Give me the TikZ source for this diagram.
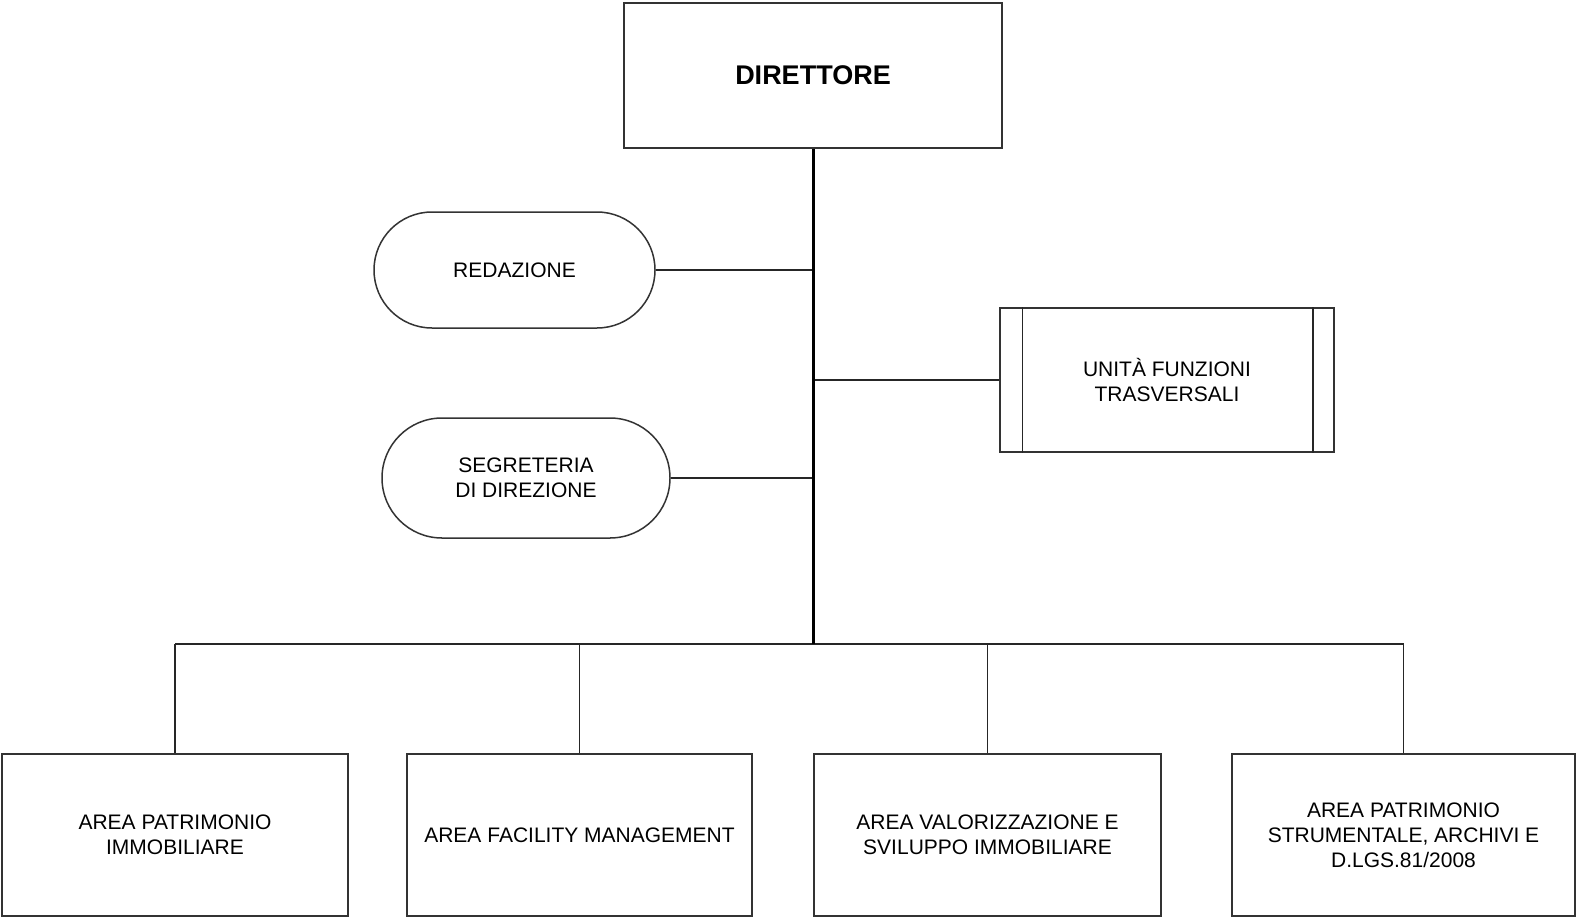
\documentclass[tikz,border=0pt]{standalone}
\usepackage{fontspec}
\setmainfont{Liberation Sans}
\usepackage{tikz}
\usetikzlibrary{positioning, calc}

\begin{document}
\begin{tikzpicture}[x=1pt,y=-1pt]
\tikzset{
  bx/.style={rectangle,draw=black!80,line width=1.5pt,fill=white,inner sep=0pt,align=center,font=\fontsize{21}{25}\selectfont},
  st/.style={bx,rounded corners=58pt},
  ln/.style={draw=black!85,line width=1.5pt},
  tr/.style={draw=black,line width=3pt}
}
\useasboundingbox (0,0) rectangle (1577,918);
\node[bx,minimum width=378pt,minimum height=145pt,font=\fontsize{27}{32}\selectfont\bfseries] (dir) at (813,75.5) {DIRETTORE};
\node[st,minimum width=281pt,minimum height=116pt] (red) at (514.5,270) {REDAZIONE};
\node[st,rounded corners=60pt,minimum width=288pt,minimum height=120pt] (seg) at (526,478) {SEGRETERIA\\DI DIREZIONE};
\node[bx,minimum width=334pt,minimum height=144pt] (uni) at (1167,380) {UNITÀ FUNZIONI\\TRASVERSALI};
\draw[ln] ([xshift=23pt]uni.north west) -- ([xshift=23pt]uni.south west);
\draw[ln] ([xshift=-22pt]uni.north east) -- ([xshift=-22pt]uni.south east);
% aree
\node[bx,minimum width=346pt,minimum height=162pt] (a1) at (175,835) {AREA PATRIMONIO\\IMMOBILIARE};
\node[bx,minimum width=345pt,minimum height=162pt] (a2) at (579.5,835) {AREA FACILITY MANAGEMENT};
\node[bx,minimum width=347pt,minimum height=162pt] (a3) at (987.5,835) {AREA VALORIZZAZIONE E\\SVILUPPO IMMOBILIARE};
\node[bx,minimum width=343pt,minimum height=162pt] (a4) at (1403.5,835) {AREA PATRIMONIO\\STRUMENTALE, ARCHIVI E\\D.LGS.81/2008};
\coordinate (bus) at (813,644);
% collegamenti
\draw[ln] (red.east) -- (red.east -| dir.south);
\draw[ln] (seg.east) -- (seg.east -| dir.south);
\draw[ln] (uni.west) -- (uni.west -| dir.south);
\draw[ln] (a1.north |- bus) -- (a4.north |- bus);
\foreach \n in {a1,a2,a3,a4} \draw[ln] (\n.north) -- (\n.north |- bus);
\draw[tr] (dir.south) -- (bus);
\end{tikzpicture}
\end{document}
